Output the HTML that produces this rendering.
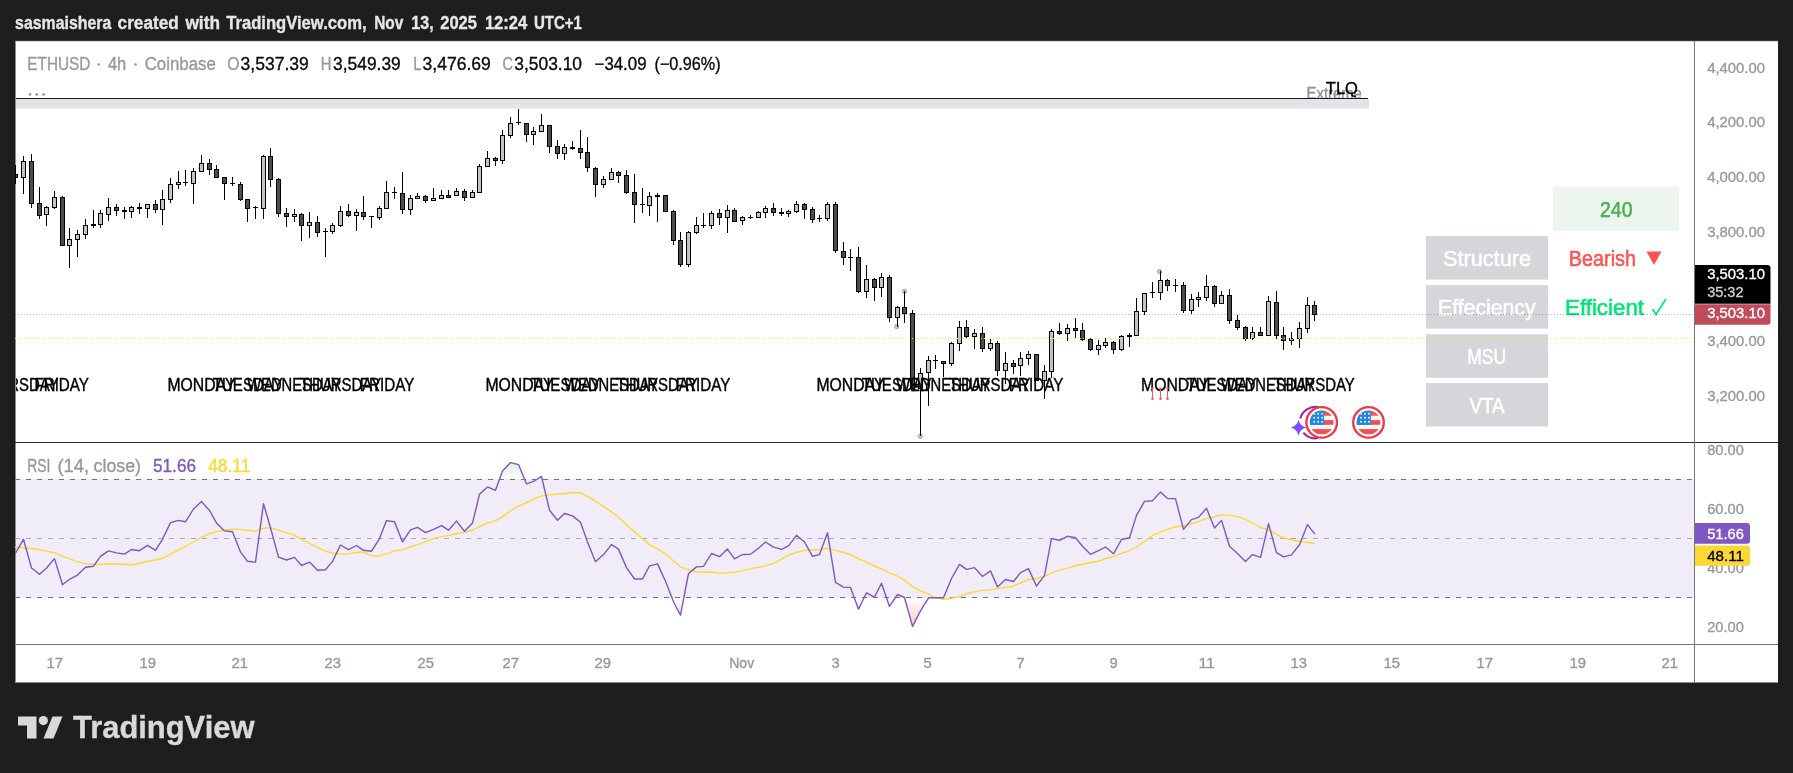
<!DOCTYPE html>
<html><head><meta charset="utf-8"><title>ETHUSD chart</title><style>html,body{margin:0;padding:0;background:#1e1e1e;}body{width:1793px;height:773px;overflow:hidden;font-family:"Liberation Sans",sans-serif;}</style></head><body>
<svg width="1793" height="773" viewBox="0 0 1793 773" font-family="Liberation Sans, sans-serif" style="display:block;will-change:transform">
<rect width="1793" height="773" fill="#1e1e1e"/>
<text x="15.10" y="28.90" font-size="18" fill="#e6e6e6" stroke="#e6e6e6" stroke-width="0.35" font-weight="bold" textLength="96.20" lengthAdjust="spacingAndGlyphs">sasmaishera</text>
<text x="117.60" y="28.90" font-size="18" fill="#e6e6e6" stroke="#e6e6e6" stroke-width="0.35" font-weight="bold" textLength="61.10" lengthAdjust="spacingAndGlyphs">created</text>
<text x="185.40" y="28.90" font-size="18" fill="#e6e6e6" stroke="#e6e6e6" stroke-width="0.35" font-weight="bold" textLength="34.60" lengthAdjust="spacingAndGlyphs">with</text>
<text x="226.20" y="28.90" font-size="18" fill="#e6e6e6" stroke="#e6e6e6" stroke-width="0.35" font-weight="bold" textLength="140.40" lengthAdjust="spacingAndGlyphs">TradingView.com,</text>
<text x="374.20" y="28.90" font-size="18" fill="#e6e6e6" stroke="#e6e6e6" stroke-width="0.35" font-weight="bold" textLength="29.20" lengthAdjust="spacingAndGlyphs">Nov</text>
<text x="411.30" y="28.90" font-size="18" fill="#e6e6e6" stroke="#e6e6e6" stroke-width="0.35" font-weight="bold" textLength="22.30" lengthAdjust="spacingAndGlyphs">13,</text>
<text x="440.20" y="28.90" font-size="18" fill="#e6e6e6" stroke="#e6e6e6" stroke-width="0.35" font-weight="bold" textLength="36.80" lengthAdjust="spacingAndGlyphs">2025</text>
<text x="484.90" y="28.90" font-size="18" fill="#e6e6e6" stroke="#e6e6e6" stroke-width="0.35" font-weight="bold" textLength="42.30" lengthAdjust="spacingAndGlyphs">12:24</text>
<text x="533.90" y="28.90" font-size="18" fill="#e6e6e6" stroke="#e6e6e6" stroke-width="0.35" font-weight="bold" textLength="48.10" lengthAdjust="spacingAndGlyphs">UTC+1</text>
<rect x="15" y="41" width="1763" height="641.5" fill="#ffffff"/>
<rect x="15" y="41" width="1" height="641.5" fill="#8c8c8c"/>
<rect x="15" y="40.6" width="1763" height="1" fill="#8c8c8c" opacity="0.6"/>
<rect x="16" y="479" width="1678" height="119" fill="#f0edf9"/>
<text x="1306.60" y="99.30" font-size="15.8" fill="#8e909f" stroke="#8e909f" stroke-width="0.35" font-weight="normal" textLength="55.20" lengthAdjust="spacingAndGlyphs">Extreme</text>
<rect x="16" y="99" width="1353" height="9.7" fill="#e3e4e7"/>
<rect x="16" y="98" width="1352" height="1" fill="#1a1a1a"/>
<text x="1325.80" y="93.90" font-size="17.2" fill="#000000" stroke="#000000" stroke-width="0.35" font-weight="normal" textLength="32.20" lengthAdjust="spacingAndGlyphs">TLQ</text>
<rect x="1426" y="236.1" width="122" height="43.5" fill="#d5d6d9"/>
<rect x="1426" y="285.2" width="122" height="43.5" fill="#d5d6d9"/>
<rect x="1426" y="334.3" width="122" height="43.5" fill="#d5d6d9"/>
<rect x="1426" y="383.0" width="122" height="43.5" fill="#d5d6d9"/>
<rect x="1553" y="186.9" width="126" height="43.7" fill="#edf6ee"/>
<text x="1600.00" y="216.90" font-size="21.5" fill="#4caf50" stroke="#4caf50" stroke-width="0.55" font-weight="normal" textLength="32.50" lengthAdjust="spacingAndGlyphs">240</text>
<text x="1443.00" y="266.20" font-size="21.5" fill="#ffffff" stroke="#ffffff" stroke-width="0.55" font-weight="normal" textLength="88.00" lengthAdjust="spacingAndGlyphs">Structure</text>
<text x="1438.00" y="315.30" font-size="21.5" fill="#ffffff" stroke="#ffffff" stroke-width="0.55" font-weight="normal" textLength="97.60" lengthAdjust="spacingAndGlyphs">Effeciency</text>
<text x="1467.30" y="364.40" font-size="21.5" fill="#ffffff" stroke="#ffffff" stroke-width="0.55" font-weight="normal" textLength="38.70" lengthAdjust="spacingAndGlyphs">MSU</text>
<text x="1469.50" y="413.30" font-size="21.5" fill="#ffffff" stroke="#ffffff" stroke-width="0.55" font-weight="normal" textLength="35.10" lengthAdjust="spacingAndGlyphs">VTA</text>
<text x="1568.80" y="266.20" font-size="21.5" fill="#ff5252" stroke="#ff5252" stroke-width="0.55" font-weight="normal" textLength="67.20" lengthAdjust="spacingAndGlyphs">Bearish</text>
<path d="M1646.5 251.5 L1661.5 251.5 L1654 265 Z" fill="#ff5252"/>
<text x="1565.00" y="315.30" font-size="21.5" fill="#00e676" stroke="#00e676" stroke-width="0.55" font-weight="normal" textLength="79.00" lengthAdjust="spacingAndGlyphs">Efficient</text>
<path d="M1652.5 309 L1656 314.5 L1666 299" fill="none" stroke="#00e676" stroke-width="1.6"/>
<circle cx="904.5" cy="291.4" r="2.1" fill="#cfcfcf" stroke="#9e9e9e" stroke-width="1"/>
<circle cx="896.7" cy="326.6" r="2.1" fill="#cfcfcf" stroke="#9e9e9e" stroke-width="1"/>
<circle cx="920.3" cy="436.3" r="2.1" fill="#cfcfcf" stroke="#9e9e9e" stroke-width="1"/>
<circle cx="1159.6" cy="271.6" r="2.1" fill="#cfcfcf" stroke="#9e9e9e" stroke-width="1"/>
<line x1="15" y1="314.5" x2="1694" y2="314.5" stroke="#000" stroke-opacity="0.28" stroke-width="1" stroke-dasharray="1 2"/>
<g shape-rendering="crispEdges">
<rect x="15" y="165" width="1" height="19" fill="#000"/>
<rect x="15" y="174" width="3" height="4" fill="#000"/>
<rect x="16" y="175" width="1" height="2" fill="#4d4d4d"/>
<rect x="23" y="156" width="1" height="38" fill="#000"/>
<rect x="21" y="161" width="5" height="17" fill="#000"/>
<rect x="22" y="162" width="3" height="15" fill="#c2c3c9"/>
<rect x="31" y="154" width="1" height="54" fill="#000"/>
<rect x="29" y="161" width="5" height="43" fill="#000"/>
<rect x="30" y="162" width="3" height="41" fill="#4d4d4d"/>
<rect x="39" y="187" width="1" height="32" fill="#000"/>
<rect x="37" y="203" width="5" height="13" fill="#000"/>
<rect x="38" y="204" width="3" height="11" fill="#4d4d4d"/>
<rect x="46" y="206" width="1" height="20" fill="#000"/>
<rect x="44" y="207" width="5" height="8" fill="#000"/>
<rect x="45" y="208" width="3" height="6" fill="#c2c3c9"/>
<rect x="54" y="191" width="1" height="18" fill="#000"/>
<rect x="52" y="197" width="5" height="11" fill="#000"/>
<rect x="53" y="198" width="3" height="9" fill="#c2c3c9"/>
<rect x="62" y="196" width="1" height="50" fill="#000"/>
<rect x="60" y="197" width="5" height="49" fill="#000"/>
<rect x="61" y="198" width="3" height="47" fill="#4d4d4d"/>
<rect x="69" y="228" width="1" height="40" fill="#000"/>
<rect x="67" y="239" width="5" height="7" fill="#000"/>
<rect x="68" y="240" width="3" height="5" fill="#c2c3c9"/>
<rect x="77" y="230" width="1" height="27" fill="#000"/>
<rect x="75" y="234" width="5" height="6" fill="#000"/>
<rect x="76" y="235" width="3" height="4" fill="#c2c3c9"/>
<rect x="85" y="219" width="1" height="20" fill="#000"/>
<rect x="83" y="225" width="5" height="10" fill="#000"/>
<rect x="84" y="226" width="3" height="8" fill="#c2c3c9"/>
<rect x="93" y="210" width="1" height="18" fill="#000"/>
<rect x="91" y="224" width="5" height="2" fill="#000"/>
<rect x="100" y="210" width="1" height="18" fill="#000"/>
<rect x="98" y="213" width="5" height="12" fill="#000"/>
<rect x="99" y="214" width="3" height="10" fill="#c2c3c9"/>
<rect x="108" y="198" width="1" height="23" fill="#000"/>
<rect x="106" y="207" width="5" height="8" fill="#000"/>
<rect x="107" y="208" width="3" height="6" fill="#c2c3c9"/>
<rect x="116" y="204" width="1" height="12" fill="#000"/>
<rect x="114" y="207" width="5" height="4" fill="#000"/>
<rect x="115" y="208" width="3" height="2" fill="#4d4d4d"/>
<rect x="124" y="207" width="1" height="12" fill="#000"/>
<rect x="122" y="210" width="5" height="2" fill="#000"/>
<rect x="131" y="206" width="1" height="12" fill="#000"/>
<rect x="129" y="207" width="5" height="5" fill="#000"/>
<rect x="130" y="208" width="3" height="3" fill="#c2c3c9"/>
<rect x="139" y="203" width="1" height="11" fill="#000"/>
<rect x="137" y="207" width="5" height="2" fill="#000"/>
<rect x="147" y="204" width="1" height="14" fill="#000"/>
<rect x="145" y="204" width="5" height="5" fill="#000"/>
<rect x="146" y="205" width="3" height="3" fill="#c2c3c9"/>
<rect x="155" y="200" width="1" height="13" fill="#000"/>
<rect x="153" y="204" width="5" height="6" fill="#000"/>
<rect x="154" y="205" width="3" height="4" fill="#4d4d4d"/>
<rect x="162" y="190" width="1" height="35" fill="#000"/>
<rect x="160" y="199" width="5" height="11" fill="#000"/>
<rect x="161" y="200" width="3" height="9" fill="#c2c3c9"/>
<rect x="170" y="178" width="1" height="25" fill="#000"/>
<rect x="168" y="184" width="5" height="16" fill="#000"/>
<rect x="169" y="185" width="3" height="14" fill="#c2c3c9"/>
<rect x="178" y="171" width="1" height="18" fill="#000"/>
<rect x="176" y="182" width="5" height="3" fill="#000"/>
<rect x="177" y="183" width="3" height="1" fill="#c2c3c9"/>
<rect x="185" y="170" width="1" height="16" fill="#000"/>
<rect x="183" y="182" width="5" height="1" fill="#000"/>
<rect x="193" y="168" width="1" height="36" fill="#000"/>
<rect x="191" y="171" width="5" height="13" fill="#000"/>
<rect x="192" y="172" width="3" height="11" fill="#c2c3c9"/>
<rect x="201" y="155" width="1" height="17" fill="#000"/>
<rect x="199" y="163" width="5" height="9" fill="#000"/>
<rect x="200" y="164" width="3" height="7" fill="#c2c3c9"/>
<rect x="209" y="159" width="1" height="16" fill="#000"/>
<rect x="207" y="163" width="5" height="7" fill="#000"/>
<rect x="208" y="164" width="3" height="5" fill="#4d4d4d"/>
<rect x="216" y="165" width="1" height="13" fill="#000"/>
<rect x="214" y="169" width="5" height="9" fill="#000"/>
<rect x="215" y="170" width="3" height="7" fill="#4d4d4d"/>
<rect x="224" y="177" width="1" height="23" fill="#000"/>
<rect x="222" y="177" width="5" height="7" fill="#000"/>
<rect x="223" y="178" width="3" height="5" fill="#4d4d4d"/>
<rect x="232" y="177" width="1" height="9" fill="#000"/>
<rect x="230" y="183" width="5" height="1" fill="#000"/>
<rect x="240" y="182" width="1" height="19" fill="#000"/>
<rect x="238" y="184" width="5" height="16" fill="#000"/>
<rect x="239" y="185" width="3" height="14" fill="#4d4d4d"/>
<rect x="247" y="199" width="1" height="23" fill="#000"/>
<rect x="245" y="199" width="5" height="10" fill="#000"/>
<rect x="246" y="200" width="3" height="8" fill="#4d4d4d"/>
<rect x="255" y="206" width="1" height="13" fill="#000"/>
<rect x="253" y="207" width="5" height="1" fill="#000"/>
<rect x="263" y="155" width="1" height="64" fill="#000"/>
<rect x="261" y="156" width="5" height="53" fill="#000"/>
<rect x="262" y="157" width="3" height="51" fill="#c2c3c9"/>
<rect x="270" y="148" width="1" height="39" fill="#000"/>
<rect x="268" y="156" width="5" height="24" fill="#000"/>
<rect x="269" y="157" width="3" height="22" fill="#4d4d4d"/>
<rect x="278" y="178" width="1" height="39" fill="#000"/>
<rect x="276" y="179" width="5" height="35" fill="#000"/>
<rect x="277" y="180" width="3" height="33" fill="#4d4d4d"/>
<rect x="286" y="208" width="1" height="19" fill="#000"/>
<rect x="284" y="213" width="5" height="4" fill="#000"/>
<rect x="285" y="214" width="3" height="2" fill="#4d4d4d"/>
<rect x="294" y="209" width="1" height="13" fill="#000"/>
<rect x="292" y="214" width="5" height="3" fill="#000"/>
<rect x="293" y="215" width="3" height="1" fill="#c2c3c9"/>
<rect x="301" y="213" width="1" height="28" fill="#000"/>
<rect x="299" y="214" width="5" height="12" fill="#000"/>
<rect x="300" y="215" width="3" height="10" fill="#4d4d4d"/>
<rect x="309" y="212" width="1" height="26" fill="#000"/>
<rect x="307" y="222" width="5" height="4" fill="#000"/>
<rect x="308" y="223" width="3" height="2" fill="#c2c3c9"/>
<rect x="317" y="216" width="1" height="21" fill="#000"/>
<rect x="315" y="222" width="5" height="11" fill="#000"/>
<rect x="316" y="223" width="3" height="9" fill="#4d4d4d"/>
<rect x="325" y="228" width="1" height="29" fill="#000"/>
<rect x="323" y="231" width="5" height="1" fill="#000"/>
<rect x="332" y="223" width="1" height="11" fill="#000"/>
<rect x="330" y="225" width="5" height="7" fill="#000"/>
<rect x="331" y="226" width="3" height="5" fill="#c2c3c9"/>
<rect x="340" y="206" width="1" height="21" fill="#000"/>
<rect x="338" y="211" width="5" height="15" fill="#000"/>
<rect x="339" y="212" width="3" height="13" fill="#c2c3c9"/>
<rect x="348" y="204" width="1" height="13" fill="#000"/>
<rect x="346" y="211" width="5" height="5" fill="#000"/>
<rect x="347" y="212" width="3" height="3" fill="#4d4d4d"/>
<rect x="356" y="209" width="1" height="22" fill="#000"/>
<rect x="354" y="212" width="5" height="4" fill="#000"/>
<rect x="355" y="213" width="3" height="2" fill="#c2c3c9"/>
<rect x="363" y="196" width="1" height="24" fill="#000"/>
<rect x="361" y="212" width="5" height="5" fill="#000"/>
<rect x="362" y="213" width="3" height="3" fill="#4d4d4d"/>
<rect x="371" y="216" width="1" height="12" fill="#000"/>
<rect x="369" y="216" width="5" height="1" fill="#000"/>
<rect x="379" y="206" width="1" height="14" fill="#000"/>
<rect x="377" y="208" width="5" height="10" fill="#000"/>
<rect x="378" y="209" width="3" height="8" fill="#c2c3c9"/>
<rect x="386" y="181" width="1" height="28" fill="#000"/>
<rect x="384" y="192" width="5" height="17" fill="#000"/>
<rect x="385" y="193" width="3" height="15" fill="#c2c3c9"/>
<rect x="394" y="187" width="1" height="12" fill="#000"/>
<rect x="392" y="192" width="5" height="1" fill="#000"/>
<rect x="402" y="172" width="1" height="42" fill="#000"/>
<rect x="400" y="193" width="5" height="17" fill="#000"/>
<rect x="401" y="194" width="3" height="15" fill="#4d4d4d"/>
<rect x="410" y="195" width="1" height="20" fill="#000"/>
<rect x="408" y="198" width="5" height="12" fill="#000"/>
<rect x="409" y="199" width="3" height="10" fill="#c2c3c9"/>
<rect x="417" y="193" width="1" height="6" fill="#000"/>
<rect x="415" y="196" width="5" height="3" fill="#000"/>
<rect x="416" y="197" width="3" height="1" fill="#c2c3c9"/>
<rect x="425" y="195" width="1" height="8" fill="#000"/>
<rect x="423" y="196" width="5" height="5" fill="#000"/>
<rect x="424" y="197" width="3" height="3" fill="#4d4d4d"/>
<rect x="433" y="188" width="1" height="13" fill="#000"/>
<rect x="431" y="198" width="5" height="3" fill="#000"/>
<rect x="432" y="199" width="3" height="1" fill="#c2c3c9"/>
<rect x="441" y="190" width="1" height="9" fill="#000"/>
<rect x="439" y="195" width="5" height="4" fill="#000"/>
<rect x="440" y="196" width="3" height="2" fill="#c2c3c9"/>
<rect x="448" y="190" width="1" height="8" fill="#000"/>
<rect x="446" y="195" width="5" height="3" fill="#000"/>
<rect x="447" y="196" width="3" height="1" fill="#4d4d4d"/>
<rect x="456" y="188" width="1" height="8" fill="#000"/>
<rect x="454" y="191" width="5" height="5" fill="#000"/>
<rect x="455" y="192" width="3" height="3" fill="#c2c3c9"/>
<rect x="464" y="189" width="1" height="12" fill="#000"/>
<rect x="462" y="191" width="5" height="7" fill="#000"/>
<rect x="463" y="192" width="3" height="5" fill="#4d4d4d"/>
<rect x="472" y="190" width="1" height="8" fill="#000"/>
<rect x="470" y="192" width="5" height="6" fill="#000"/>
<rect x="471" y="193" width="3" height="4" fill="#c2c3c9"/>
<rect x="479" y="164" width="1" height="29" fill="#000"/>
<rect x="477" y="166" width="5" height="27" fill="#000"/>
<rect x="478" y="167" width="3" height="25" fill="#c2c3c9"/>
<rect x="487" y="151" width="1" height="16" fill="#000"/>
<rect x="485" y="158" width="5" height="9" fill="#000"/>
<rect x="486" y="159" width="3" height="7" fill="#c2c3c9"/>
<rect x="495" y="157" width="1" height="9" fill="#000"/>
<rect x="493" y="158" width="5" height="3" fill="#000"/>
<rect x="494" y="159" width="3" height="1" fill="#4d4d4d"/>
<rect x="502" y="130" width="1" height="34" fill="#000"/>
<rect x="500" y="135" width="5" height="26" fill="#000"/>
<rect x="501" y="136" width="3" height="24" fill="#c2c3c9"/>
<rect x="510" y="117" width="1" height="21" fill="#000"/>
<rect x="508" y="123" width="5" height="13" fill="#000"/>
<rect x="509" y="124" width="3" height="11" fill="#c2c3c9"/>
<rect x="518" y="109" width="1" height="16" fill="#000"/>
<rect x="516" y="122" width="5" height="1" fill="#000"/>
<rect x="526" y="123" width="1" height="19" fill="#000"/>
<rect x="524" y="123" width="5" height="12" fill="#000"/>
<rect x="525" y="124" width="3" height="10" fill="#4d4d4d"/>
<rect x="533" y="127" width="1" height="18" fill="#000"/>
<rect x="531" y="131" width="5" height="4" fill="#000"/>
<rect x="532" y="132" width="3" height="2" fill="#c2c3c9"/>
<rect x="541" y="114" width="1" height="18" fill="#000"/>
<rect x="539" y="125" width="5" height="7" fill="#000"/>
<rect x="540" y="126" width="3" height="5" fill="#c2c3c9"/>
<rect x="549" y="125" width="1" height="28" fill="#000"/>
<rect x="547" y="125" width="5" height="22" fill="#000"/>
<rect x="548" y="126" width="3" height="20" fill="#4d4d4d"/>
<rect x="557" y="140" width="1" height="19" fill="#000"/>
<rect x="555" y="146" width="5" height="8" fill="#000"/>
<rect x="556" y="147" width="3" height="6" fill="#4d4d4d"/>
<rect x="564" y="144" width="1" height="16" fill="#000"/>
<rect x="562" y="147" width="5" height="7" fill="#000"/>
<rect x="563" y="148" width="3" height="5" fill="#c2c3c9"/>
<rect x="572" y="141" width="1" height="9" fill="#000"/>
<rect x="570" y="147" width="5" height="2" fill="#000"/>
<rect x="580" y="130" width="1" height="29" fill="#000"/>
<rect x="578" y="148" width="5" height="5" fill="#000"/>
<rect x="579" y="149" width="3" height="3" fill="#4d4d4d"/>
<rect x="587" y="137" width="1" height="35" fill="#000"/>
<rect x="585" y="152" width="5" height="16" fill="#000"/>
<rect x="586" y="153" width="3" height="14" fill="#4d4d4d"/>
<rect x="595" y="167" width="1" height="30" fill="#000"/>
<rect x="593" y="168" width="5" height="17" fill="#000"/>
<rect x="594" y="169" width="3" height="15" fill="#4d4d4d"/>
<rect x="603" y="176" width="1" height="12" fill="#000"/>
<rect x="601" y="179" width="5" height="6" fill="#000"/>
<rect x="602" y="180" width="3" height="4" fill="#c2c3c9"/>
<rect x="611" y="168" width="1" height="12" fill="#000"/>
<rect x="609" y="172" width="5" height="8" fill="#000"/>
<rect x="610" y="173" width="3" height="6" fill="#c2c3c9"/>
<rect x="618" y="171" width="1" height="12" fill="#000"/>
<rect x="616" y="172" width="5" height="4" fill="#000"/>
<rect x="617" y="173" width="3" height="2" fill="#4d4d4d"/>
<rect x="626" y="170" width="1" height="24" fill="#000"/>
<rect x="624" y="175" width="5" height="18" fill="#000"/>
<rect x="625" y="176" width="3" height="16" fill="#4d4d4d"/>
<rect x="634" y="174" width="1" height="49" fill="#000"/>
<rect x="632" y="192" width="5" height="13" fill="#000"/>
<rect x="633" y="193" width="3" height="11" fill="#4d4d4d"/>
<rect x="642" y="188" width="1" height="25" fill="#000"/>
<rect x="640" y="204" width="5" height="1" fill="#000"/>
<rect x="649" y="192" width="1" height="24" fill="#000"/>
<rect x="647" y="196" width="5" height="10" fill="#000"/>
<rect x="648" y="197" width="3" height="8" fill="#c2c3c9"/>
<rect x="657" y="193" width="1" height="29" fill="#000"/>
<rect x="655" y="195" width="5" height="2" fill="#000"/>
<rect x="665" y="195" width="1" height="17" fill="#000"/>
<rect x="663" y="195" width="5" height="17" fill="#000"/>
<rect x="664" y="196" width="3" height="15" fill="#4d4d4d"/>
<rect x="673" y="210" width="1" height="35" fill="#000"/>
<rect x="671" y="211" width="5" height="30" fill="#000"/>
<rect x="672" y="212" width="3" height="28" fill="#4d4d4d"/>
<rect x="680" y="232" width="1" height="35" fill="#000"/>
<rect x="678" y="240" width="5" height="25" fill="#000"/>
<rect x="679" y="241" width="3" height="23" fill="#4d4d4d"/>
<rect x="688" y="231" width="1" height="36" fill="#000"/>
<rect x="686" y="232" width="5" height="33" fill="#000"/>
<rect x="687" y="233" width="3" height="31" fill="#c2c3c9"/>
<rect x="696" y="217" width="1" height="17" fill="#000"/>
<rect x="694" y="225" width="5" height="8" fill="#000"/>
<rect x="695" y="226" width="3" height="6" fill="#c2c3c9"/>
<rect x="703" y="213" width="1" height="15" fill="#000"/>
<rect x="701" y="225" width="5" height="1" fill="#000"/>
<rect x="711" y="211" width="1" height="18" fill="#000"/>
<rect x="709" y="213" width="5" height="13" fill="#000"/>
<rect x="710" y="214" width="3" height="11" fill="#c2c3c9"/>
<rect x="719" y="209" width="1" height="16" fill="#000"/>
<rect x="717" y="213" width="5" height="5" fill="#000"/>
<rect x="718" y="214" width="3" height="3" fill="#4d4d4d"/>
<rect x="727" y="205" width="1" height="28" fill="#000"/>
<rect x="725" y="210" width="5" height="8" fill="#000"/>
<rect x="726" y="211" width="3" height="6" fill="#c2c3c9"/>
<rect x="734" y="208" width="1" height="14" fill="#000"/>
<rect x="732" y="210" width="5" height="12" fill="#000"/>
<rect x="733" y="211" width="3" height="10" fill="#4d4d4d"/>
<rect x="742" y="216" width="1" height="9" fill="#000"/>
<rect x="740" y="217" width="5" height="4" fill="#000"/>
<rect x="741" y="218" width="3" height="2" fill="#c2c3c9"/>
<rect x="750" y="215" width="1" height="4" fill="#000"/>
<rect x="748" y="217" width="5" height="1" fill="#000"/>
<rect x="758" y="211" width="1" height="7" fill="#000"/>
<rect x="756" y="212" width="5" height="6" fill="#000"/>
<rect x="757" y="213" width="3" height="4" fill="#c2c3c9"/>
<rect x="765" y="206" width="1" height="12" fill="#000"/>
<rect x="763" y="208" width="5" height="5" fill="#000"/>
<rect x="764" y="209" width="3" height="3" fill="#c2c3c9"/>
<rect x="773" y="203" width="1" height="13" fill="#000"/>
<rect x="771" y="208" width="5" height="5" fill="#000"/>
<rect x="772" y="209" width="3" height="3" fill="#4d4d4d"/>
<rect x="781" y="208" width="1" height="8" fill="#000"/>
<rect x="779" y="212" width="5" height="2" fill="#000"/>
<rect x="788" y="210" width="1" height="7" fill="#000"/>
<rect x="786" y="211" width="5" height="3" fill="#000"/>
<rect x="787" y="212" width="3" height="1" fill="#c2c3c9"/>
<rect x="796" y="201" width="1" height="12" fill="#000"/>
<rect x="794" y="204" width="5" height="8" fill="#000"/>
<rect x="795" y="205" width="3" height="6" fill="#c2c3c9"/>
<rect x="804" y="203" width="1" height="16" fill="#000"/>
<rect x="802" y="204" width="5" height="6" fill="#000"/>
<rect x="803" y="205" width="3" height="4" fill="#4d4d4d"/>
<rect x="812" y="207" width="1" height="16" fill="#000"/>
<rect x="810" y="209" width="5" height="11" fill="#000"/>
<rect x="811" y="210" width="3" height="9" fill="#4d4d4d"/>
<rect x="819" y="215" width="1" height="7" fill="#000"/>
<rect x="817" y="218" width="5" height="1" fill="#000"/>
<rect x="827" y="202" width="1" height="19" fill="#000"/>
<rect x="825" y="204" width="5" height="15" fill="#000"/>
<rect x="826" y="205" width="3" height="13" fill="#c2c3c9"/>
<rect x="835" y="202" width="1" height="51" fill="#000"/>
<rect x="833" y="204" width="5" height="47" fill="#000"/>
<rect x="834" y="205" width="3" height="45" fill="#4d4d4d"/>
<rect x="843" y="242" width="1" height="23" fill="#000"/>
<rect x="841" y="251" width="5" height="7" fill="#000"/>
<rect x="842" y="252" width="3" height="5" fill="#4d4d4d"/>
<rect x="850" y="249" width="1" height="22" fill="#000"/>
<rect x="848" y="257" width="5" height="1" fill="#000"/>
<rect x="858" y="247" width="1" height="46" fill="#000"/>
<rect x="856" y="257" width="5" height="35" fill="#000"/>
<rect x="857" y="258" width="3" height="33" fill="#4d4d4d"/>
<rect x="866" y="265" width="1" height="33" fill="#000"/>
<rect x="864" y="279" width="5" height="13" fill="#000"/>
<rect x="865" y="280" width="3" height="11" fill="#c2c3c9"/>
<rect x="874" y="278" width="1" height="23" fill="#000"/>
<rect x="872" y="279" width="5" height="9" fill="#000"/>
<rect x="873" y="280" width="3" height="7" fill="#4d4d4d"/>
<rect x="881" y="273" width="1" height="24" fill="#000"/>
<rect x="879" y="277" width="5" height="11" fill="#000"/>
<rect x="880" y="278" width="3" height="9" fill="#c2c3c9"/>
<rect x="889" y="275" width="1" height="47" fill="#000"/>
<rect x="887" y="277" width="5" height="41" fill="#000"/>
<rect x="888" y="278" width="3" height="39" fill="#4d4d4d"/>
<rect x="897" y="306" width="1" height="21" fill="#000"/>
<rect x="895" y="307" width="5" height="11" fill="#000"/>
<rect x="896" y="308" width="3" height="9" fill="#c2c3c9"/>
<rect x="904" y="291" width="1" height="32" fill="#000"/>
<rect x="902" y="307" width="5" height="7" fill="#000"/>
<rect x="903" y="308" width="3" height="5" fill="#4d4d4d"/>
<rect x="912" y="310" width="1" height="79" fill="#000"/>
<rect x="910" y="313" width="5" height="76" fill="#000"/>
<rect x="911" y="314" width="3" height="74" fill="#4d4d4d"/>
<rect x="920" y="368" width="1" height="68" fill="#000"/>
<rect x="918" y="373" width="5" height="16" fill="#000"/>
<rect x="919" y="374" width="3" height="14" fill="#c2c3c9"/>
<rect x="928" y="356" width="1" height="50" fill="#000"/>
<rect x="926" y="360" width="5" height="13" fill="#000"/>
<rect x="927" y="361" width="3" height="11" fill="#c2c3c9"/>
<rect x="935" y="355" width="1" height="14" fill="#000"/>
<rect x="933" y="360" width="5" height="1" fill="#000"/>
<rect x="943" y="361" width="1" height="16" fill="#000"/>
<rect x="941" y="361" width="5" height="3" fill="#000"/>
<rect x="942" y="362" width="3" height="1" fill="#4d4d4d"/>
<rect x="951" y="342" width="1" height="24" fill="#000"/>
<rect x="949" y="343" width="5" height="21" fill="#000"/>
<rect x="950" y="344" width="3" height="19" fill="#c2c3c9"/>
<rect x="959" y="321" width="1" height="30" fill="#000"/>
<rect x="957" y="327" width="5" height="17" fill="#000"/>
<rect x="958" y="328" width="3" height="15" fill="#c2c3c9"/>
<rect x="966" y="320" width="1" height="18" fill="#000"/>
<rect x="964" y="327" width="5" height="10" fill="#000"/>
<rect x="965" y="328" width="3" height="8" fill="#4d4d4d"/>
<rect x="974" y="329" width="1" height="20" fill="#000"/>
<rect x="972" y="333" width="5" height="4" fill="#000"/>
<rect x="973" y="334" width="3" height="2" fill="#c2c3c9"/>
<rect x="982" y="327" width="1" height="25" fill="#000"/>
<rect x="980" y="333" width="5" height="16" fill="#000"/>
<rect x="981" y="334" width="3" height="14" fill="#4d4d4d"/>
<rect x="990" y="339" width="1" height="12" fill="#000"/>
<rect x="988" y="343" width="5" height="6" fill="#000"/>
<rect x="989" y="344" width="3" height="4" fill="#c2c3c9"/>
<rect x="997" y="341" width="1" height="35" fill="#000"/>
<rect x="995" y="343" width="5" height="28" fill="#000"/>
<rect x="996" y="344" width="3" height="26" fill="#4d4d4d"/>
<rect x="1005" y="352" width="1" height="32" fill="#000"/>
<rect x="1003" y="363" width="5" height="8" fill="#000"/>
<rect x="1004" y="364" width="3" height="6" fill="#c2c3c9"/>
<rect x="1013" y="360" width="1" height="14" fill="#000"/>
<rect x="1011" y="363" width="5" height="4" fill="#000"/>
<rect x="1012" y="364" width="3" height="2" fill="#4d4d4d"/>
<rect x="1020" y="352" width="1" height="24" fill="#000"/>
<rect x="1018" y="358" width="5" height="8" fill="#000"/>
<rect x="1019" y="359" width="3" height="6" fill="#c2c3c9"/>
<rect x="1028" y="351" width="1" height="14" fill="#000"/>
<rect x="1026" y="354" width="5" height="5" fill="#000"/>
<rect x="1027" y="355" width="3" height="3" fill="#c2c3c9"/>
<rect x="1036" y="354" width="1" height="27" fill="#000"/>
<rect x="1034" y="354" width="5" height="27" fill="#000"/>
<rect x="1035" y="355" width="3" height="25" fill="#4d4d4d"/>
<rect x="1044" y="365" width="1" height="34" fill="#000"/>
<rect x="1042" y="371" width="5" height="10" fill="#000"/>
<rect x="1043" y="372" width="3" height="8" fill="#c2c3c9"/>
<rect x="1051" y="329" width="1" height="49" fill="#000"/>
<rect x="1049" y="331" width="5" height="41" fill="#000"/>
<rect x="1050" y="332" width="3" height="39" fill="#c2c3c9"/>
<rect x="1059" y="323" width="1" height="12" fill="#000"/>
<rect x="1057" y="331" width="5" height="3" fill="#000"/>
<rect x="1058" y="332" width="3" height="1" fill="#4d4d4d"/>
<rect x="1067" y="324" width="1" height="17" fill="#000"/>
<rect x="1065" y="328" width="5" height="6" fill="#000"/>
<rect x="1066" y="329" width="3" height="4" fill="#c2c3c9"/>
<rect x="1075" y="318" width="1" height="20" fill="#000"/>
<rect x="1073" y="328" width="5" height="3" fill="#000"/>
<rect x="1074" y="329" width="3" height="1" fill="#4d4d4d"/>
<rect x="1082" y="323" width="1" height="18" fill="#000"/>
<rect x="1080" y="330" width="5" height="10" fill="#000"/>
<rect x="1081" y="331" width="3" height="8" fill="#4d4d4d"/>
<rect x="1090" y="338" width="1" height="13" fill="#000"/>
<rect x="1088" y="339" width="5" height="11" fill="#000"/>
<rect x="1089" y="340" width="3" height="9" fill="#4d4d4d"/>
<rect x="1098" y="340" width="1" height="15" fill="#000"/>
<rect x="1096" y="345" width="5" height="5" fill="#000"/>
<rect x="1097" y="346" width="3" height="3" fill="#c2c3c9"/>
<rect x="1105" y="338" width="1" height="10" fill="#000"/>
<rect x="1103" y="342" width="5" height="4" fill="#000"/>
<rect x="1104" y="343" width="3" height="2" fill="#c2c3c9"/>
<rect x="1113" y="341" width="1" height="13" fill="#000"/>
<rect x="1111" y="342" width="5" height="8" fill="#000"/>
<rect x="1112" y="343" width="3" height="6" fill="#4d4d4d"/>
<rect x="1121" y="335" width="1" height="16" fill="#000"/>
<rect x="1119" y="336" width="5" height="14" fill="#000"/>
<rect x="1120" y="337" width="3" height="12" fill="#c2c3c9"/>
<rect x="1129" y="333" width="1" height="14" fill="#000"/>
<rect x="1127" y="335" width="5" height="2" fill="#000"/>
<rect x="1136" y="298" width="1" height="38" fill="#000"/>
<rect x="1134" y="311" width="5" height="25" fill="#000"/>
<rect x="1135" y="312" width="3" height="23" fill="#c2c3c9"/>
<rect x="1144" y="293" width="1" height="22" fill="#000"/>
<rect x="1142" y="293" width="5" height="19" fill="#000"/>
<rect x="1143" y="294" width="3" height="17" fill="#c2c3c9"/>
<rect x="1152" y="282" width="1" height="16" fill="#000"/>
<rect x="1150" y="292" width="5" height="1" fill="#000"/>
<rect x="1160" y="271" width="1" height="29" fill="#000"/>
<rect x="1158" y="280" width="5" height="13" fill="#000"/>
<rect x="1159" y="281" width="3" height="11" fill="#c2c3c9"/>
<rect x="1167" y="279" width="1" height="12" fill="#000"/>
<rect x="1165" y="280" width="5" height="6" fill="#000"/>
<rect x="1166" y="281" width="3" height="4" fill="#4d4d4d"/>
<rect x="1175" y="279" width="1" height="13" fill="#000"/>
<rect x="1173" y="285" width="5" height="1" fill="#000"/>
<rect x="1183" y="282" width="1" height="31" fill="#000"/>
<rect x="1181" y="285" width="5" height="26" fill="#000"/>
<rect x="1182" y="286" width="3" height="24" fill="#4d4d4d"/>
<rect x="1191" y="294" width="1" height="20" fill="#000"/>
<rect x="1189" y="299" width="5" height="12" fill="#000"/>
<rect x="1190" y="300" width="3" height="10" fill="#c2c3c9"/>
<rect x="1198" y="292" width="1" height="15" fill="#000"/>
<rect x="1196" y="297" width="5" height="3" fill="#000"/>
<rect x="1197" y="298" width="3" height="1" fill="#c2c3c9"/>
<rect x="1206" y="275" width="1" height="26" fill="#000"/>
<rect x="1204" y="286" width="5" height="12" fill="#000"/>
<rect x="1205" y="287" width="3" height="10" fill="#c2c3c9"/>
<rect x="1214" y="285" width="1" height="22" fill="#000"/>
<rect x="1212" y="286" width="5" height="18" fill="#000"/>
<rect x="1213" y="287" width="3" height="16" fill="#4d4d4d"/>
<rect x="1221" y="291" width="1" height="13" fill="#000"/>
<rect x="1219" y="295" width="5" height="9" fill="#000"/>
<rect x="1220" y="296" width="3" height="7" fill="#c2c3c9"/>
<rect x="1229" y="289" width="1" height="35" fill="#000"/>
<rect x="1227" y="295" width="5" height="26" fill="#000"/>
<rect x="1228" y="296" width="3" height="24" fill="#4d4d4d"/>
<rect x="1237" y="315" width="1" height="15" fill="#000"/>
<rect x="1235" y="320" width="5" height="8" fill="#000"/>
<rect x="1236" y="321" width="3" height="6" fill="#4d4d4d"/>
<rect x="1245" y="326" width="1" height="15" fill="#000"/>
<rect x="1243" y="327" width="5" height="12" fill="#000"/>
<rect x="1244" y="328" width="3" height="10" fill="#4d4d4d"/>
<rect x="1252" y="327" width="1" height="13" fill="#000"/>
<rect x="1250" y="332" width="5" height="7" fill="#000"/>
<rect x="1251" y="333" width="3" height="5" fill="#c2c3c9"/>
<rect x="1260" y="327" width="1" height="9" fill="#000"/>
<rect x="1258" y="332" width="5" height="4" fill="#000"/>
<rect x="1259" y="333" width="3" height="2" fill="#4d4d4d"/>
<rect x="1268" y="296" width="1" height="40" fill="#000"/>
<rect x="1266" y="301" width="5" height="35" fill="#000"/>
<rect x="1267" y="302" width="3" height="33" fill="#c2c3c9"/>
<rect x="1276" y="291" width="1" height="48" fill="#000"/>
<rect x="1274" y="302" width="5" height="34" fill="#000"/>
<rect x="1275" y="303" width="3" height="32" fill="#4d4d4d"/>
<rect x="1283" y="327" width="1" height="23" fill="#000"/>
<rect x="1281" y="335" width="5" height="6" fill="#000"/>
<rect x="1282" y="336" width="3" height="4" fill="#4d4d4d"/>
<rect x="1291" y="332" width="1" height="13" fill="#000"/>
<rect x="1289" y="338" width="5" height="3" fill="#000"/>
<rect x="1290" y="339" width="3" height="1" fill="#c2c3c9"/>
<rect x="1299" y="322" width="1" height="26" fill="#000"/>
<rect x="1297" y="328" width="5" height="11" fill="#000"/>
<rect x="1298" y="329" width="3" height="9" fill="#c2c3c9"/>
<rect x="1307" y="297" width="1" height="36" fill="#000"/>
<rect x="1305" y="305" width="5" height="24" fill="#000"/>
<rect x="1306" y="306" width="3" height="22" fill="#c2c3c9"/>
<rect x="1314" y="301" width="1" height="20" fill="#000"/>
<rect x="1312" y="305" width="5" height="10" fill="#000"/>
<rect x="1313" y="306" width="3" height="8" fill="#4d4d4d"/>
</g>
<line x1="15" y1="338.5" x2="1694" y2="338.5" stroke="#ffeb3b" stroke-width="1" stroke-dasharray="1 2"/>
<defs><clipPath id="cp"><rect x="16" y="42" width="1678" height="400"/></clipPath></defs>
<g clip-path="url(#cp)">
<text x="-22.50" y="390.80" font-size="17.5" fill="#000000" stroke="#000000" stroke-width="0.4" font-weight="normal" textLength="81.00" lengthAdjust="spacingAndGlyphs">THURSDAY</text>
<text x="34.45" y="390.80" font-size="17.5" fill="#000000" stroke="#000000" stroke-width="0.4" font-weight="normal" textLength="54.50" lengthAdjust="spacingAndGlyphs">FRIDAY</text>
<text x="167.40" y="390.80" font-size="17.5" fill="#000000" stroke="#000000" stroke-width="0.4" font-weight="normal" textLength="68.00" lengthAdjust="spacingAndGlyphs">MONDAY</text>
<text x="212.80" y="390.80" font-size="17.5" fill="#000000" stroke="#000000" stroke-width="0.4" font-weight="normal" textLength="70.00" lengthAdjust="spacingAndGlyphs">TUESDAY</text>
<text x="247.20" y="390.80" font-size="17.5" fill="#000000" stroke="#000000" stroke-width="0.4" font-weight="normal" textLength="94.00" lengthAdjust="spacingAndGlyphs">WEDNESDAY</text>
<text x="300.10" y="390.80" font-size="17.5" fill="#000000" stroke="#000000" stroke-width="0.4" font-weight="normal" textLength="81.00" lengthAdjust="spacingAndGlyphs">THURSDAY</text>
<text x="359.75" y="390.80" font-size="17.5" fill="#000000" stroke="#000000" stroke-width="0.4" font-weight="normal" textLength="54.50" lengthAdjust="spacingAndGlyphs">FRIDAY</text>
<text x="485.40" y="390.80" font-size="17.5" fill="#000000" stroke="#000000" stroke-width="0.4" font-weight="normal" textLength="68.00" lengthAdjust="spacingAndGlyphs">MONDAY</text>
<text x="530.30" y="390.80" font-size="17.5" fill="#000000" stroke="#000000" stroke-width="0.4" font-weight="normal" textLength="70.00" lengthAdjust="spacingAndGlyphs">TUESDAY</text>
<text x="564.20" y="390.80" font-size="17.5" fill="#000000" stroke="#000000" stroke-width="0.4" font-weight="normal" textLength="94.00" lengthAdjust="spacingAndGlyphs">WEDNESDAY</text>
<text x="616.60" y="390.80" font-size="17.5" fill="#000000" stroke="#000000" stroke-width="0.4" font-weight="normal" textLength="81.00" lengthAdjust="spacingAndGlyphs">THURSDAY</text>
<text x="675.75" y="390.80" font-size="17.5" fill="#000000" stroke="#000000" stroke-width="0.4" font-weight="normal" textLength="54.50" lengthAdjust="spacingAndGlyphs">FRIDAY</text>
<text x="816.40" y="390.80" font-size="17.5" fill="#000000" stroke="#000000" stroke-width="0.4" font-weight="normal" textLength="68.00" lengthAdjust="spacingAndGlyphs">MONDAY</text>
<text x="861.80" y="390.80" font-size="17.5" fill="#000000" stroke="#000000" stroke-width="0.4" font-weight="normal" textLength="70.00" lengthAdjust="spacingAndGlyphs">TUESDAY</text>
<text x="896.20" y="390.80" font-size="17.5" fill="#000000" stroke="#000000" stroke-width="0.4" font-weight="normal" textLength="94.00" lengthAdjust="spacingAndGlyphs">WEDNESDAY</text>
<text x="949.10" y="390.80" font-size="17.5" fill="#000000" stroke="#000000" stroke-width="0.4" font-weight="normal" textLength="81.00" lengthAdjust="spacingAndGlyphs">THURSDAY</text>
<text x="1008.75" y="390.80" font-size="17.5" fill="#000000" stroke="#000000" stroke-width="0.4" font-weight="normal" textLength="54.50" lengthAdjust="spacingAndGlyphs">FRIDAY</text>
<text x="1141.10" y="390.80" font-size="17.5" fill="#000000" stroke="#000000" stroke-width="0.4" font-weight="normal" textLength="68.00" lengthAdjust="spacingAndGlyphs">MONDAY</text>
<text x="1186.50" y="390.80" font-size="17.5" fill="#000000" stroke="#000000" stroke-width="0.4" font-weight="normal" textLength="70.00" lengthAdjust="spacingAndGlyphs">TUESDAY</text>
<text x="1220.90" y="390.80" font-size="17.5" fill="#000000" stroke="#000000" stroke-width="0.4" font-weight="normal" textLength="94.00" lengthAdjust="spacingAndGlyphs">WEDNESDAY</text>
<text x="1273.80" y="390.80" font-size="17.5" fill="#000000" stroke="#000000" stroke-width="0.4" font-weight="normal" textLength="81.00" lengthAdjust="spacingAndGlyphs">THURSDAY</text>
</g>
<line x1="1152.5" y1="388" x2="1152.5" y2="399" stroke="#ff5252" stroke-width="1"/>
<circle cx="1152.5" cy="398.8" r="1.3" fill="#ff5252"/>
<rect x="1151.0" y="387.6" width="3" height="1" fill="#ff5252"/>
<line x1="1160.5" y1="388" x2="1160.5" y2="399" stroke="#ff5252" stroke-width="1"/>
<circle cx="1160.5" cy="398.8" r="1.3" fill="#ff5252"/>
<rect x="1159.0" y="387.6" width="3" height="1" fill="#ff5252"/>
<line x1="1167.5" y1="388" x2="1167.5" y2="399" stroke="#ff5252" stroke-width="1"/>
<circle cx="1167.5" cy="398.8" r="1.3" fill="#ff5252"/>
<rect x="1166.0" y="387.6" width="3" height="1" fill="#ff5252"/>
<text x="27.30" y="69.70" font-size="18" fill="#9598a1" stroke="#9598a1" stroke-width="0.35" font-weight="normal" textLength="63.00" lengthAdjust="spacingAndGlyphs">ETHUSD</text>
<text x="107.90" y="69.70" font-size="18" fill="#9598a1" stroke="#9598a1" stroke-width="0.35" font-weight="normal" textLength="18.40" lengthAdjust="spacingAndGlyphs">4h</text>
<text x="144.70" y="69.70" font-size="18" fill="#9598a1" stroke="#9598a1" stroke-width="0.35" font-weight="normal" textLength="71.10" lengthAdjust="spacingAndGlyphs">Coinbase</text>
<circle cx="98.7" cy="64.5" r="1.3" fill="#9598a1"/>
<circle cx="135.5" cy="64.5" r="1.3" fill="#9598a1"/>
<text x="227.30" y="69.70" font-size="18" fill="#9598a1" stroke="#9598a1" stroke-width="0.35" font-weight="normal" textLength="12.20" lengthAdjust="spacingAndGlyphs">O</text>
<text x="240.50" y="69.70" font-size="18" fill="#0a0a0a" stroke="#0a0a0a" stroke-width="0.35" font-weight="normal" textLength="68.30" lengthAdjust="spacingAndGlyphs">3,537.39</text>
<text x="320.80" y="69.70" font-size="18" fill="#9598a1" stroke="#9598a1" stroke-width="0.35" font-weight="normal" textLength="10.70" lengthAdjust="spacingAndGlyphs">H</text>
<text x="333.00" y="69.70" font-size="18" fill="#0a0a0a" stroke="#0a0a0a" stroke-width="0.35" font-weight="normal" textLength="67.80" lengthAdjust="spacingAndGlyphs">3,549.39</text>
<text x="413.30" y="69.70" font-size="18" fill="#9598a1" stroke="#9598a1" stroke-width="0.35" font-weight="normal" textLength="8.20" lengthAdjust="spacingAndGlyphs">L</text>
<text x="422.50" y="69.70" font-size="18" fill="#0a0a0a" stroke="#0a0a0a" stroke-width="0.35" font-weight="normal" textLength="68.30" lengthAdjust="spacingAndGlyphs">3,476.69</text>
<text x="502.60" y="69.70" font-size="18" fill="#9598a1" stroke="#9598a1" stroke-width="0.35" font-weight="normal" textLength="10.40" lengthAdjust="spacingAndGlyphs">C</text>
<text x="514.30" y="69.70" font-size="18" fill="#0a0a0a" stroke="#0a0a0a" stroke-width="0.35" font-weight="normal" textLength="67.70" lengthAdjust="spacingAndGlyphs">3,503.10</text>
<text x="594.60" y="69.70" font-size="18" fill="#0a0a0a" stroke="#0a0a0a" stroke-width="0.35" font-weight="normal" textLength="51.90" lengthAdjust="spacingAndGlyphs">−34.09</text>
<text x="654.50" y="69.70" font-size="18" fill="#0a0a0a" stroke="#0a0a0a" stroke-width="0.35" font-weight="normal" textLength="66.10" lengthAdjust="spacingAndGlyphs">(−0.96%)</text>
<circle cx="30" cy="94.4" r="1.35" fill="#9598a1"/>
<circle cx="36.7" cy="94.4" r="1.35" fill="#9598a1"/>
<circle cx="43.6" cy="94.4" r="1.35" fill="#9598a1"/>
<path d="M1300.3 418.4 A15.6 15.6 0 0 1 1318.0 407.2" fill="none" stroke="#9c27b0" stroke-width="2.2"/>
<path d="M1303.3 432.6 A15.6 15.6 0 0 0 1318.0 438.0" fill="none" stroke="#9c27b0" stroke-width="2.2"/>
<path d="M1298.5 419.8 Q1300 426.1 1306.3 427.6 Q1300 429.1 1298.5 435.4 Q1297 429.1 1290.7 427.6 Q1297 426.1 1298.5 419.8 Z" fill="#7c4dff"/>
<g>
<circle cx="1321.7" cy="422.4" r="15.3" fill="#fff" stroke="#f23645" stroke-width="2.3"/>
<clipPath id="f1321"><circle cx="1321.7" cy="422.4" r="12"/></clipPath>
<g clip-path="url(#f1321)">
<rect x="1309.7" y="410.4" width="24" height="24" fill="#f5f7fa"/>
<rect x="1309.7" y="410.4" width="24" height="5.3" fill="#ef5350"/>
<rect x="1309.7" y="420.09999999999997" width="24" height="4.7" fill="#ef5350"/>
<rect x="1309.7" y="429.09999999999997" width="24" height="5.5" fill="#ef5350"/>
<rect x="1309.7" y="410.4" width="14.4" height="14.4" fill="#1e88e5"/>
<circle cx="1314.2" cy="413.79999999999995" r="0.95" fill="#fff"/>
<circle cx="1318.2" cy="413.79999999999995" r="0.95" fill="#fff"/>
<circle cx="1322.2" cy="413.79999999999995" r="0.95" fill="#fff"/>
<circle cx="1314.2" cy="417.79999999999995" r="0.95" fill="#fff"/>
<circle cx="1318.2" cy="417.79999999999995" r="0.95" fill="#fff"/>
<circle cx="1322.2" cy="417.79999999999995" r="0.95" fill="#fff"/>
<circle cx="1314.2" cy="421.79999999999995" r="0.95" fill="#fff"/>
<circle cx="1318.2" cy="421.79999999999995" r="0.95" fill="#fff"/>
<circle cx="1322.2" cy="421.79999999999995" r="0.95" fill="#fff"/>
</g></g>
<g>
<circle cx="1368.5" cy="422.4" r="15.3" fill="#fff" stroke="#f23645" stroke-width="2.3"/>
<clipPath id="f1368"><circle cx="1368.5" cy="422.4" r="12"/></clipPath>
<g clip-path="url(#f1368)">
<rect x="1356.5" y="410.4" width="24" height="24" fill="#f5f7fa"/>
<rect x="1356.5" y="410.4" width="24" height="5.3" fill="#ef5350"/>
<rect x="1356.5" y="420.09999999999997" width="24" height="4.7" fill="#ef5350"/>
<rect x="1356.5" y="429.09999999999997" width="24" height="5.5" fill="#ef5350"/>
<rect x="1356.5" y="410.4" width="14.4" height="14.4" fill="#1e88e5"/>
<circle cx="1361.0" cy="413.79999999999995" r="0.95" fill="#fff"/>
<circle cx="1365.0" cy="413.79999999999995" r="0.95" fill="#fff"/>
<circle cx="1369.0" cy="413.79999999999995" r="0.95" fill="#fff"/>
<circle cx="1361.0" cy="417.79999999999995" r="0.95" fill="#fff"/>
<circle cx="1365.0" cy="417.79999999999995" r="0.95" fill="#fff"/>
<circle cx="1369.0" cy="417.79999999999995" r="0.95" fill="#fff"/>
<circle cx="1361.0" cy="421.79999999999995" r="0.95" fill="#fff"/>
<circle cx="1365.0" cy="421.79999999999995" r="0.95" fill="#fff"/>
<circle cx="1369.0" cy="421.79999999999995" r="0.95" fill="#fff"/>
</g></g>
<line x1="15" y1="479.5" x2="1694" y2="479.5" stroke="#70737f" stroke-width="1" stroke-dasharray="5 6"/>
<line x1="15" y1="538.5" x2="1694" y2="538.5" stroke="#a9abb3" stroke-width="1" stroke-dasharray="5 6"/>
<line x1="15" y1="597.5" x2="1694" y2="597.5" stroke="#70737f" stroke-width="1" stroke-dasharray="5 6"/>
<defs><linearGradient id="gg" gradientUnits="userSpaceOnUse" x1="0" y1="391" x2="0" y2="479.5"><stop offset="0" stop-color="#4caf50" stop-opacity="1"/><stop offset="1" stop-color="#4caf50" stop-opacity="0"/></linearGradient>
<linearGradient id="gr" gradientUnits="userSpaceOnUse" x1="0" y1="597.5" x2="0" y2="686"><stop offset="0" stop-color="#ff5252" stop-opacity="0"/><stop offset="1" stop-color="#ff5252" stop-opacity="1"/></linearGradient>
<clipPath id="cu"><rect x="16" y="440" width="1678" height="39.5"/></clipPath><clipPath id="cl"><rect x="16" y="597.5" width="1678" height="60"/></clipPath></defs>
<polygon points="15,479.5 15.5,553.2 23.5,539.3 31.5,568.0 39.5,574.3 46.5,568.0 54.5,558.6 62.5,584.8 69.5,579.3 77.5,575.1 85.5,567.2 93.5,566.2 100.5,556.3 108.5,550.9 116.5,552.9 124.5,554.1 131.5,549.5 139.5,550.7 147.5,545.3 155.5,550.4 162.5,539.3 170.5,522.6 178.5,520.4 185.5,521.8 193.5,509.0 201.5,501.6 209.5,510.4 216.5,523.0 224.5,530.9 232.5,531.7 240.5,551.9 247.5,561.3 255.5,562.1 263.5,503.6 270.5,527.7 278.5,557.1 286.5,560.0 294.5,557.4 301.5,565.5 309.5,562.1 317.5,570.2 325.5,569.8 332.5,561.4 340.5,545.0 348.5,549.7 356.5,545.5 363.5,550.3 371.5,551.2 379.5,538.6 386.5,520.6 394.5,521.8 402.5,541.9 410.5,529.8 417.5,527.3 425.5,532.7 433.5,529.3 441.5,525.6 448.5,530.2 456.5,521.1 464.5,531.2 472.5,523.1 479.5,494.2 487.5,486.9 495.5,490.3 502.5,471.0 510.5,462.6 518.5,464.6 526.5,483.9 533.5,481.4 541.5,476.5 549.5,510.2 557.5,520.2 564.5,513.5 572.5,515.9 580.5,522.3 587.5,542.0 595.5,561.7 603.5,554.6 611.5,544.6 618.5,549.1 626.5,567.6 634.5,579.0 642.5,579.0 649.5,565.9 657.5,563.9 665.5,581.2 673.5,601.7 680.5,615.2 688.5,573.5 696.5,566.9 703.5,566.4 711.5,553.5 719.5,556.7 727.5,549.1 734.5,558.9 742.5,554.5 750.5,554.3 758.5,548.3 765.5,542.0 773.5,547.1 781.5,549.3 788.5,545.9 796.5,535.3 804.5,542.0 812.5,556.3 819.5,554.6 827.5,532.8 835.5,582.4 843.5,587.1 850.5,587.4 858.5,609.3 866.5,592.8 874.5,597.1 881.5,583.2 889.5,606.4 897.5,594.5 904.5,597.5 912.5,626.4 920.5,610.9 928.5,597.8 935.5,597.8 943.5,597.8 951.5,578.5 959.5,564.4 966.5,569.4 974.5,567.6 982.5,576.5 990.5,570.9 997.5,586.9 1005.5,579.5 1013.5,581.5 1020.5,572.6 1028.5,568.6 1036.5,586.2 1044.5,575.3 1051.5,538.6 1059.5,540.3 1067.5,536.3 1075.5,537.8 1082.5,546.2 1090.5,554.3 1098.5,550.7 1105.5,547.0 1113.5,553.8 1121.5,539.5 1129.5,537.8 1136.5,515.4 1144.5,501.4 1152.5,500.8 1160.5,491.9 1167.5,498.6 1175.5,498.6 1183.5,529.4 1191.5,519.6 1198.5,517.4 1206.5,508.2 1214.5,528.0 1221.5,520.4 1229.5,546.2 1237.5,553.6 1245.5,561.6 1252.5,554.6 1260.5,557.4 1268.5,523.8 1276.5,552.7 1283.5,556.9 1291.5,554.9 1299.5,544.8 1307.5,524.6 1314.5,533.6 1314,479.5" fill="url(#gg)" clip-path="url(#cu)"/>
<polygon points="15,597.5 15.5,553.2 23.5,539.3 31.5,568.0 39.5,574.3 46.5,568.0 54.5,558.6 62.5,584.8 69.5,579.3 77.5,575.1 85.5,567.2 93.5,566.2 100.5,556.3 108.5,550.9 116.5,552.9 124.5,554.1 131.5,549.5 139.5,550.7 147.5,545.3 155.5,550.4 162.5,539.3 170.5,522.6 178.5,520.4 185.5,521.8 193.5,509.0 201.5,501.6 209.5,510.4 216.5,523.0 224.5,530.9 232.5,531.7 240.5,551.9 247.5,561.3 255.5,562.1 263.5,503.6 270.5,527.7 278.5,557.1 286.5,560.0 294.5,557.4 301.5,565.5 309.5,562.1 317.5,570.2 325.5,569.8 332.5,561.4 340.5,545.0 348.5,549.7 356.5,545.5 363.5,550.3 371.5,551.2 379.5,538.6 386.5,520.6 394.5,521.8 402.5,541.9 410.5,529.8 417.5,527.3 425.5,532.7 433.5,529.3 441.5,525.6 448.5,530.2 456.5,521.1 464.5,531.2 472.5,523.1 479.5,494.2 487.5,486.9 495.5,490.3 502.5,471.0 510.5,462.6 518.5,464.6 526.5,483.9 533.5,481.4 541.5,476.5 549.5,510.2 557.5,520.2 564.5,513.5 572.5,515.9 580.5,522.3 587.5,542.0 595.5,561.7 603.5,554.6 611.5,544.6 618.5,549.1 626.5,567.6 634.5,579.0 642.5,579.0 649.5,565.9 657.5,563.9 665.5,581.2 673.5,601.7 680.5,615.2 688.5,573.5 696.5,566.9 703.5,566.4 711.5,553.5 719.5,556.7 727.5,549.1 734.5,558.9 742.5,554.5 750.5,554.3 758.5,548.3 765.5,542.0 773.5,547.1 781.5,549.3 788.5,545.9 796.5,535.3 804.5,542.0 812.5,556.3 819.5,554.6 827.5,532.8 835.5,582.4 843.5,587.1 850.5,587.4 858.5,609.3 866.5,592.8 874.5,597.1 881.5,583.2 889.5,606.4 897.5,594.5 904.5,597.5 912.5,626.4 920.5,610.9 928.5,597.8 935.5,597.8 943.5,597.8 951.5,578.5 959.5,564.4 966.5,569.4 974.5,567.6 982.5,576.5 990.5,570.9 997.5,586.9 1005.5,579.5 1013.5,581.5 1020.5,572.6 1028.5,568.6 1036.5,586.2 1044.5,575.3 1051.5,538.6 1059.5,540.3 1067.5,536.3 1075.5,537.8 1082.5,546.2 1090.5,554.3 1098.5,550.7 1105.5,547.0 1113.5,553.8 1121.5,539.5 1129.5,537.8 1136.5,515.4 1144.5,501.4 1152.5,500.8 1160.5,491.9 1167.5,498.6 1175.5,498.6 1183.5,529.4 1191.5,519.6 1198.5,517.4 1206.5,508.2 1214.5,528.0 1221.5,520.4 1229.5,546.2 1237.5,553.6 1245.5,561.6 1252.5,554.6 1260.5,557.4 1268.5,523.8 1276.5,552.7 1283.5,556.9 1291.5,554.9 1299.5,544.8 1307.5,524.6 1314.5,533.6 1314,597.5" fill="url(#gr)" clip-path="url(#cl)"/>
<polyline points="15.5,547.3 23.5,547.9 31.5,548.5 39.5,549.5 46.5,551.1 54.5,552.7 62.5,556.1 69.5,558.9 77.5,561.6 85.5,563.8 93.5,564.5 100.5,564.5 108.5,563.8 116.5,564.0 124.5,564.2 131.5,565.0 139.5,563.3 147.5,561.3 155.5,560.0 162.5,558.3 170.5,554.1 178.5,549.9 185.5,546.5 193.5,542.0 201.5,537.3 209.5,533.6 216.5,531.7 224.5,530.0 232.5,529.2 240.5,529.4 247.5,530.2 255.5,531.4 263.5,528.3 270.5,527.7 278.5,530.2 286.5,532.6 294.5,535.2 301.5,539.4 309.5,543.3 317.5,547.5 325.5,551.2 332.5,553.0 340.5,554.0 348.5,553.9 356.5,552.5 363.5,552.0 371.5,555.6 379.5,556.2 386.5,553.9 394.5,550.8 402.5,549.7 410.5,547.0 417.5,544.6 425.5,541.6 433.5,538.6 441.5,536.6 448.5,535.4 456.5,533.5 464.5,532.3 472.5,530.2 479.5,526.5 487.5,523.1 495.5,520.6 502.5,516.9 510.5,511.0 518.5,506.0 526.5,502.6 533.5,499.1 541.5,495.9 549.5,494.9 557.5,494.0 564.5,493.7 572.5,492.5 580.5,492.8 587.5,496.3 595.5,501.3 603.5,506.4 611.5,511.8 618.5,517.3 626.5,524.7 634.5,531.9 642.5,538.7 649.5,544.6 657.5,548.8 665.5,553.8 673.5,561.0 680.5,566.8 688.5,569.8 696.5,571.8 703.5,572.3 711.5,572.0 719.5,573.1 727.5,572.8 734.5,572.3 742.5,570.6 750.5,568.6 758.5,567.3 765.5,565.9 773.5,563.4 781.5,559.2 788.5,555.2 796.5,552.5 804.5,550.4 812.5,549.8 819.5,549.9 827.5,548.3 835.5,550.4 843.5,552.5 850.5,554.6 858.5,558.9 866.5,562.2 874.5,566.0 881.5,568.9 889.5,572.8 897.5,576.1 904.5,580.2 912.5,586.6 920.5,590.8 928.5,594.1 935.5,597.8 943.5,599.2 951.5,598.3 959.5,596.6 966.5,593.8 974.5,591.9 982.5,590.4 990.5,589.6 997.5,588.6 1005.5,587.4 1013.5,586.2 1020.5,582.9 1028.5,579.5 1036.5,578.5 1044.5,576.5 1051.5,572.8 1059.5,570.1 1067.5,568.1 1075.5,565.5 1082.5,564.2 1090.5,562.5 1098.5,561.3 1105.5,558.5 1113.5,556.6 1121.5,553.4 1129.5,550.7 1136.5,547.0 1144.5,541.5 1152.5,535.6 1160.5,532.2 1167.5,529.4 1175.5,526.7 1183.5,525.8 1191.5,523.5 1198.5,521.6 1206.5,518.4 1214.5,516.7 1221.5,514.9 1229.5,515.1 1237.5,516.6 1245.5,519.3 1252.5,523.0 1260.5,527.5 1268.5,529.7 1276.5,534.4 1283.5,537.8 1291.5,539.8 1299.5,541.5 1307.5,542.3 1314.5,543.7" fill="none" stroke="#fdd835" stroke-width="1.4" stroke-linejoin="round" stroke-linecap="round"/>
<polyline points="15.5,553.2 23.5,539.3 31.5,568.0 39.5,574.3 46.5,568.0 54.5,558.6 62.5,584.8 69.5,579.3 77.5,575.1 85.5,567.2 93.5,566.2 100.5,556.3 108.5,550.9 116.5,552.9 124.5,554.1 131.5,549.5 139.5,550.7 147.5,545.3 155.5,550.4 162.5,539.3 170.5,522.6 178.5,520.4 185.5,521.8 193.5,509.0 201.5,501.6 209.5,510.4 216.5,523.0 224.5,530.9 232.5,531.7 240.5,551.9 247.5,561.3 255.5,562.1 263.5,503.6 270.5,527.7 278.5,557.1 286.5,560.0 294.5,557.4 301.5,565.5 309.5,562.1 317.5,570.2 325.5,569.8 332.5,561.4 340.5,545.0 348.5,549.7 356.5,545.5 363.5,550.3 371.5,551.2 379.5,538.6 386.5,520.6 394.5,521.8 402.5,541.9 410.5,529.8 417.5,527.3 425.5,532.7 433.5,529.3 441.5,525.6 448.5,530.2 456.5,521.1 464.5,531.2 472.5,523.1 479.5,494.2 487.5,486.9 495.5,490.3 502.5,471.0 510.5,462.6 518.5,464.6 526.5,483.9 533.5,481.4 541.5,476.5 549.5,510.2 557.5,520.2 564.5,513.5 572.5,515.9 580.5,522.3 587.5,542.0 595.5,561.7 603.5,554.6 611.5,544.6 618.5,549.1 626.5,567.6 634.5,579.0 642.5,579.0 649.5,565.9 657.5,563.9 665.5,581.2 673.5,601.7 680.5,615.2 688.5,573.5 696.5,566.9 703.5,566.4 711.5,553.5 719.5,556.7 727.5,549.1 734.5,558.9 742.5,554.5 750.5,554.3 758.5,548.3 765.5,542.0 773.5,547.1 781.5,549.3 788.5,545.9 796.5,535.3 804.5,542.0 812.5,556.3 819.5,554.6 827.5,532.8 835.5,582.4 843.5,587.1 850.5,587.4 858.5,609.3 866.5,592.8 874.5,597.1 881.5,583.2 889.5,606.4 897.5,594.5 904.5,597.5 912.5,626.4 920.5,610.9 928.5,597.8 935.5,597.8 943.5,597.8 951.5,578.5 959.5,564.4 966.5,569.4 974.5,567.6 982.5,576.5 990.5,570.9 997.5,586.9 1005.5,579.5 1013.5,581.5 1020.5,572.6 1028.5,568.6 1036.5,586.2 1044.5,575.3 1051.5,538.6 1059.5,540.3 1067.5,536.3 1075.5,537.8 1082.5,546.2 1090.5,554.3 1098.5,550.7 1105.5,547.0 1113.5,553.8 1121.5,539.5 1129.5,537.8 1136.5,515.4 1144.5,501.4 1152.5,500.8 1160.5,491.9 1167.5,498.6 1175.5,498.6 1183.5,529.4 1191.5,519.6 1198.5,517.4 1206.5,508.2 1214.5,528.0 1221.5,520.4 1229.5,546.2 1237.5,553.6 1245.5,561.6 1252.5,554.6 1260.5,557.4 1268.5,523.8 1276.5,552.7 1283.5,556.9 1291.5,554.9 1299.5,544.8 1307.5,524.6 1314.5,533.6" fill="none" stroke="#7e57c2" stroke-width="1.4" stroke-linejoin="round" stroke-linecap="round"/>
<text x="27.20" y="472.30" font-size="18" fill="#9598a1" stroke="#9598a1" stroke-width="0.35" font-weight="normal" textLength="23.20" lengthAdjust="spacingAndGlyphs">RSI</text>
<text x="57.40" y="472.30" font-size="18" fill="#9598a1" stroke="#9598a1" stroke-width="0.35" font-weight="normal" textLength="31.80" lengthAdjust="spacingAndGlyphs">(14,</text>
<text x="93.60" y="472.30" font-size="18" fill="#9598a1" stroke="#9598a1" stroke-width="0.35" font-weight="normal" textLength="47.40" lengthAdjust="spacingAndGlyphs">close)</text>
<text x="153.00" y="472.30" font-size="18" fill="#7e57c2" stroke="#7e57c2" stroke-width="0.35" font-weight="normal" textLength="43.00" lengthAdjust="spacingAndGlyphs">51.66</text>
<text x="208.20" y="472.30" font-size="18" fill="#fdd835" stroke="#fdd835" stroke-width="0.35" font-weight="normal" textLength="42.10" lengthAdjust="spacingAndGlyphs">48.11</text>
<rect x="15" y="442" width="1763" height="1" fill="#2f3033"/>
<rect x="15" y="644" width="1763" height="1" fill="#777"/>
<rect x="1694" y="41" width="1" height="641.5" fill="#777"/>
<text x="1707.20" y="72.80" font-size="15" fill="#9598a1" stroke="#9598a1" stroke-width="0.35" font-weight="normal" textLength="57.80" lengthAdjust="spacingAndGlyphs">4,400.00</text>
<text x="1707.20" y="127.30" font-size="15" fill="#9598a1" stroke="#9598a1" stroke-width="0.35" font-weight="normal" textLength="57.80" lengthAdjust="spacingAndGlyphs">4,200.00</text>
<text x="1707.20" y="181.80" font-size="15" fill="#9598a1" stroke="#9598a1" stroke-width="0.35" font-weight="normal" textLength="57.80" lengthAdjust="spacingAndGlyphs">4,000.00</text>
<text x="1707.20" y="236.80" font-size="15" fill="#9598a1" stroke="#9598a1" stroke-width="0.35" font-weight="normal" textLength="57.80" lengthAdjust="spacingAndGlyphs">3,800.00</text>
<text x="1707.20" y="346.30" font-size="15" fill="#9598a1" stroke="#9598a1" stroke-width="0.35" font-weight="normal" textLength="57.80" lengthAdjust="spacingAndGlyphs">3,400.00</text>
<text x="1707.20" y="401.20" font-size="15" fill="#9598a1" stroke="#9598a1" stroke-width="0.35" font-weight="normal" textLength="57.80" lengthAdjust="spacingAndGlyphs">3,200.00</text>
<text x="1707.20" y="455.30" font-size="15" fill="#9598a1" stroke="#9598a1" stroke-width="0.35" font-weight="normal" textLength="36.60" lengthAdjust="spacingAndGlyphs">80.00</text>
<text x="1707.20" y="514.00" font-size="15" fill="#9598a1" stroke="#9598a1" stroke-width="0.35" font-weight="normal" textLength="36.60" lengthAdjust="spacingAndGlyphs">60.00</text>
<text x="1707.20" y="573.00" font-size="15" fill="#9598a1" stroke="#9598a1" stroke-width="0.35" font-weight="normal" textLength="36.60" lengthAdjust="spacingAndGlyphs">40.00</text>
<text x="1707.20" y="632.20" font-size="15" fill="#9598a1" stroke="#9598a1" stroke-width="0.35" font-weight="normal" textLength="36.60" lengthAdjust="spacingAndGlyphs">20.00</text>
<path d="M1695 264.9 H1767.5 a3 3 0 0 1 3 3 V303.8 H1695 Z" fill="#000"/>
<text x="1707.20" y="278.80" font-size="15" fill="#ffffff" stroke="#ffffff" stroke-width="0.35" font-weight="normal" textLength="57.80" lengthAdjust="spacingAndGlyphs">3,503.10</text>
<text x="1707.20" y="297.00" font-size="15" fill="#cfcfcf" stroke="#cfcfcf" stroke-width="0.35" font-weight="normal" textLength="36.30" lengthAdjust="spacingAndGlyphs">35:32</text>
<path d="M1695 304.3 H1770.5 V321.7 a3 3 0 0 1 -3 3 H1695 Z" fill="#c04b5b"/>
<text x="1707.20" y="317.70" font-size="15" fill="#ffffff" stroke="#ffffff" stroke-width="0.35" font-weight="normal" textLength="57.80" lengthAdjust="spacingAndGlyphs">3,503.10</text>
<path d="M1695 522.9 H1747 a3 3 0 0 1 3 3 V540.8 a3 3 0 0 1 -3 3 H1695 Z" fill="#7e57c2"/>
<text x="1707.20" y="539.00" font-size="15" fill="#ffffff" stroke="#ffffff" stroke-width="0.35" font-weight="normal" textLength="36.60" lengthAdjust="spacingAndGlyphs">51.66</text>
<path d="M1695 545.4 H1747 a3 3 0 0 1 3 3 V562.8 a3 3 0 0 1 -3 3 H1695 Z" fill="#fdd835"/>
<text x="1707.20" y="561.30" font-size="15" fill="#000000" stroke="#000000" stroke-width="0.35" font-weight="normal" textLength="36.60" lengthAdjust="spacingAndGlyphs">48.11</text>
<text x="46.45" y="667.80" font-size="15" fill="#9598a1" stroke="#9598a1" stroke-width="0.35" font-weight="normal" textLength="16.50" lengthAdjust="spacingAndGlyphs">17</text>
<text x="139.45" y="667.80" font-size="15" fill="#9598a1" stroke="#9598a1" stroke-width="0.35" font-weight="normal" textLength="16.50" lengthAdjust="spacingAndGlyphs">19</text>
<text x="231.45" y="667.80" font-size="15" fill="#9598a1" stroke="#9598a1" stroke-width="0.35" font-weight="normal" textLength="16.50" lengthAdjust="spacingAndGlyphs">21</text>
<text x="324.45" y="667.80" font-size="15" fill="#9598a1" stroke="#9598a1" stroke-width="0.35" font-weight="normal" textLength="16.50" lengthAdjust="spacingAndGlyphs">23</text>
<text x="417.45" y="667.80" font-size="15" fill="#9598a1" stroke="#9598a1" stroke-width="0.35" font-weight="normal" textLength="16.50" lengthAdjust="spacingAndGlyphs">25</text>
<text x="502.45" y="667.80" font-size="15" fill="#9598a1" stroke="#9598a1" stroke-width="0.35" font-weight="normal" textLength="16.50" lengthAdjust="spacingAndGlyphs">27</text>
<text x="594.45" y="667.80" font-size="15" fill="#9598a1" stroke="#9598a1" stroke-width="0.35" font-weight="normal" textLength="16.50" lengthAdjust="spacingAndGlyphs">29</text>
<text x="729.20" y="667.80" font-size="15" fill="#9598a1" stroke="#9598a1" stroke-width="0.35" font-weight="normal" textLength="25.00" lengthAdjust="spacingAndGlyphs">Nov</text>
<text x="831.60" y="667.80" font-size="15" fill="#9598a1" stroke="#9598a1" stroke-width="0.35" font-weight="normal" textLength="8.20" lengthAdjust="spacingAndGlyphs">3</text>
<text x="923.60" y="667.80" font-size="15" fill="#9598a1" stroke="#9598a1" stroke-width="0.35" font-weight="normal" textLength="8.20" lengthAdjust="spacingAndGlyphs">5</text>
<text x="1016.60" y="667.80" font-size="15" fill="#9598a1" stroke="#9598a1" stroke-width="0.35" font-weight="normal" textLength="8.20" lengthAdjust="spacingAndGlyphs">7</text>
<text x="1109.60" y="667.80" font-size="15" fill="#9598a1" stroke="#9598a1" stroke-width="0.35" font-weight="normal" textLength="8.20" lengthAdjust="spacingAndGlyphs">9</text>
<text x="1198.45" y="667.80" font-size="15" fill="#9598a1" stroke="#9598a1" stroke-width="0.35" font-weight="normal" textLength="16.50" lengthAdjust="spacingAndGlyphs">11</text>
<text x="1290.45" y="667.80" font-size="15" fill="#9598a1" stroke="#9598a1" stroke-width="0.35" font-weight="normal" textLength="16.50" lengthAdjust="spacingAndGlyphs">13</text>
<text x="1383.45" y="667.80" font-size="15" fill="#9598a1" stroke="#9598a1" stroke-width="0.35" font-weight="normal" textLength="16.50" lengthAdjust="spacingAndGlyphs">15</text>
<text x="1476.45" y="667.80" font-size="15" fill="#9598a1" stroke="#9598a1" stroke-width="0.35" font-weight="normal" textLength="16.50" lengthAdjust="spacingAndGlyphs">17</text>
<text x="1569.45" y="667.80" font-size="15" fill="#9598a1" stroke="#9598a1" stroke-width="0.35" font-weight="normal" textLength="16.50" lengthAdjust="spacingAndGlyphs">19</text>
<text x="1661.45" y="667.80" font-size="15" fill="#9598a1" stroke="#9598a1" stroke-width="0.35" font-weight="normal" textLength="16.50" lengthAdjust="spacingAndGlyphs">21</text>
<g fill="#d9d9d9">
<path d="M18 716.5 H36.5 V738.5 H27 V725.5 H18 Z"/>
<circle cx="43.3" cy="720.6" r="4.6"/>
<path d="M52.5 716.5 H62.5 L53.5 738.5 H43.5 Z"/>
</g>
<text x="73.00" y="738.30" font-size="30.5" fill="#d9d9d9" stroke="#d9d9d9" stroke-width="0.35" font-weight="bold" textLength="181.50" lengthAdjust="spacingAndGlyphs">TradingView</text>
</svg>
</body></html>
